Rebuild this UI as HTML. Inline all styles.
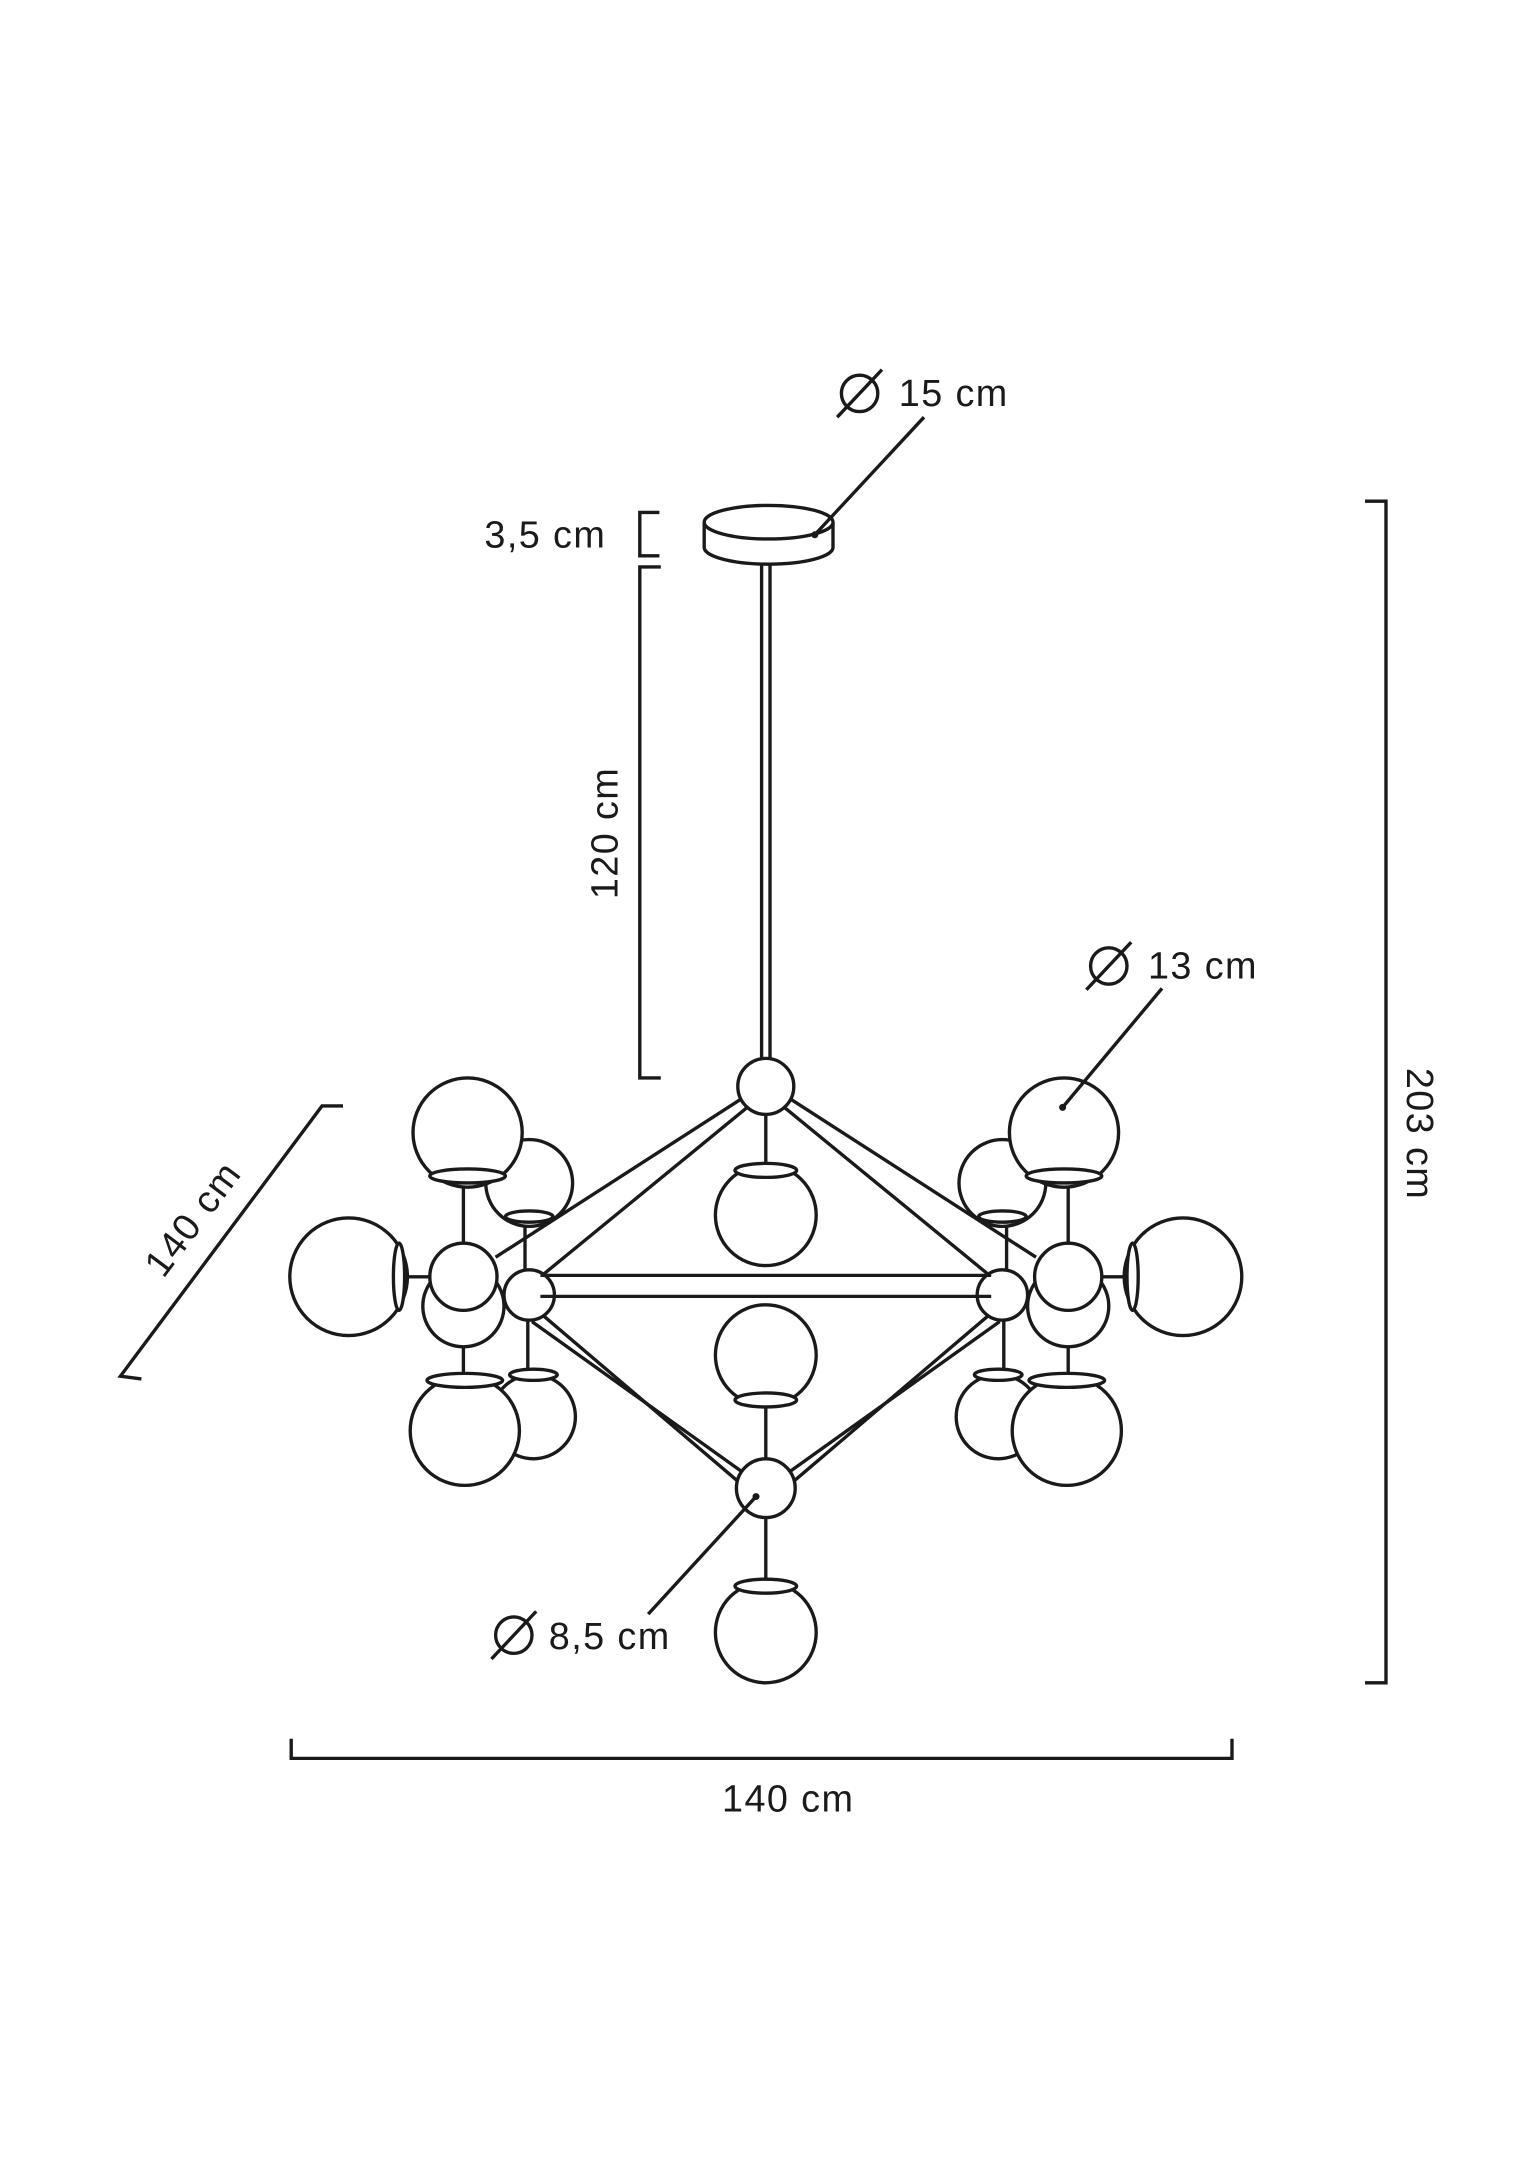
<!DOCTYPE html>
<html><head><meta charset="utf-8"><style>html,body{margin:0;padding:0;background:#fff}svg{display:block}</style></head>
<body>
<svg width="1540" height="2175" viewBox="0 0 1100 1553.6" xmlns="http://www.w3.org/2000/svg">
<defs>
<g id="half" fill="#fff" stroke="#1a1a1a" stroke-width="2.4">
  <line x1="531" y1="784" x2="354" y2="898"/>
  <line x1="535" y1="790" x2="386" y2="912"/>
  <line x1="386" y1="938" x2="527" y2="1058"/>
  <line x1="380" y1="944" x2="531" y2="1052"/>
  <line x1="331" y1="841" x2="331" y2="890"/>
  <line x1="375" y1="869" x2="375" y2="910"/>
  <line x1="331" y1="935" x2="331" y2="984"/>
  <line x1="377" y1="940" x2="377" y2="982"/>
  <line x1="282" y1="912" x2="307" y2="912"/>
  <circle cx="378" cy="845" r="31"/>
  <ellipse cx="378" cy="869" rx="17" ry="4"/>
  <circle cx="381" cy="1012" r="30"/>
  <ellipse cx="381" cy="982" rx="17" ry="4"/>
  <circle cx="331" cy="933" r="29"/>
  <circle cx="334" cy="809" r="39"/>
  <ellipse cx="334" cy="840" rx="27" ry="5"/>
  <circle cx="332" cy="1022" r="39"/>
  <ellipse cx="332" cy="986" rx="27" ry="5"/>
  <circle cx="249" cy="912" r="42"/>
  <ellipse cx="285" cy="912" rx="4" ry="24"/>
  <circle cx="331" cy="912" r="24"/>
  <circle cx="378" cy="925" r="18"/>
</g>
</defs>
<g stroke="#1a1a1a" stroke-width="2.4" fill="#fff">
  <line x1="544" y1="395" x2="544" y2="760"/>
  <line x1="550" y1="395" x2="550" y2="760"/>
  <path d="M503 373 L503 391 A46 12 0 0 0 595 391 L595 373"/>
  <ellipse cx="549" cy="373" rx="46" ry="12"/>
</g>
<use href="#half"/>
<use href="#half" transform="translate(1094,0) scale(-1,1)"/>
<g stroke="#1a1a1a" stroke-width="2.4" fill="#fff">
  <line x1="386" y1="911" x2="708" y2="911"/>
  <line x1="386" y1="926" x2="708" y2="926"/>
  <line x1="547" y1="795" x2="547" y2="835"/>
  <circle cx="547" cy="868" r="36"/>
  <ellipse cx="547" cy="836" rx="22" ry="5"/>
  <line x1="547" y1="1000" x2="547" y2="1045"/>
  <circle cx="547" cy="968" r="36"/>
  <ellipse cx="547" cy="1000" rx="22" ry="5"/>
  <line x1="547" y1="1082" x2="547" y2="1132"/>
  <circle cx="547" cy="1166" r="36"/>
  <ellipse cx="547" cy="1133" rx="22" ry="5"/>
  <circle cx="547" cy="776" r="20"/>
  <circle cx="547" cy="1063" r="21"/>
</g>
<g stroke="#1a1a1a" stroke-width="2.4" fill="none">
  <path d="M471 366 L457 366 L457 397 L471 397"/>
  <path d="M472 405 L457 405 L457 770 L472 770"/>
  <path d="M975 358 L990 358 L990 1202 L975 1202"/>
  <path d="M208 1242 L208 1256 L880 1256 L880 1242"/>
  <path d="M245 790 L230 790 L86 983 L101 985"/>
  <line x1="660" y1="298" x2="582" y2="382"/>
  <line x1="830" y1="706" x2="759" y2="791"/>
  <line x1="463" y1="1153" x2="540" y2="1069"/>
  <circle cx="614" cy="281" r="13"/><line x1="598" y1="298" x2="630" y2="264"/>
  <circle cx="792" cy="690" r="13"/><line x1="776" y1="707" x2="808" y2="673"/>
  <circle cx="367" cy="1168" r="13"/><line x1="351" y1="1185" x2="383" y2="1151"/>
</g>
<g fill="#1a1a1a">
  <circle cx="582" cy="382" r="2.5"/><circle cx="759" cy="791" r="2.5"/><circle cx="540" cy="1069" r="2.5"/>
</g>
<g font-family="Liberation Sans, sans-serif" font-size="27" letter-spacing="1" fill="#1a1a1a">
  <text x="642" y="290">15 cm</text>
  <text x="820" y="699">13 cm</text>
  <text x="392" y="1178">8,5 cm</text>
  <text x="346" y="391">3,5 cm</text>
  <text x="563" y="1294" text-anchor="middle">140 cm</text>
  <text transform="translate(441,595) rotate(-90)" text-anchor="middle">120 cm</text>
  <text transform="translate(1005,810) rotate(90)" text-anchor="middle">203 cm</text>
  <text transform="translate(145,876) rotate(-53)" text-anchor="middle">140 cm</text>
</g>
</svg>
</body></html>
